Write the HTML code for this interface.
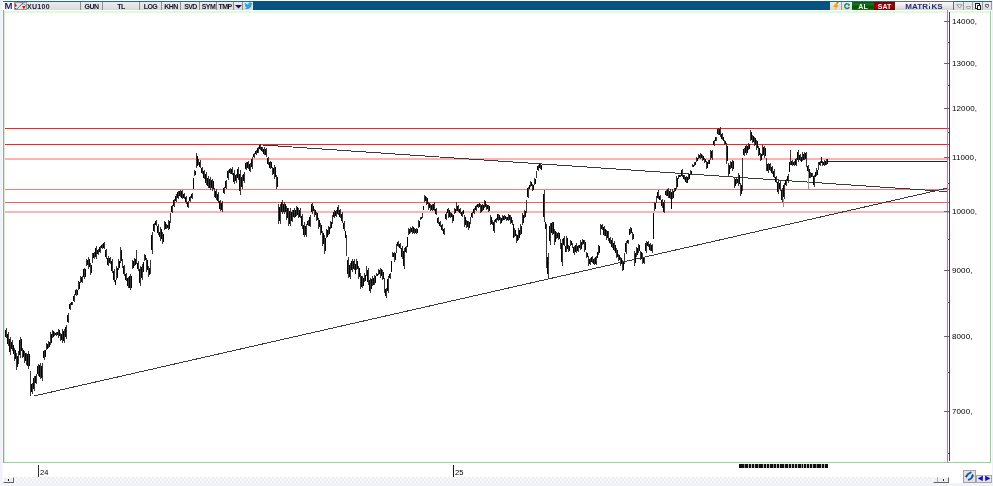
<!DOCTYPE html>
<html><head><meta charset="utf-8"><title>XU100</title>
<style>
*{margin:0;padding:0;box-sizing:border-box}
html,body{width:993px;height:486px;overflow:hidden;background:#eff3f9}
body{position:relative;font-family:"Liberation Sans",Arial,sans-serif}
.a{position:absolute}
.tb{position:absolute;top:2px;height:8px;background:linear-gradient(#ececec,#dadada)}
.sep{position:absolute;top:2px;width:1px;height:8px;background:#8e8e8e}
.tl{position:absolute;top:3px;height:7px;font:bold 7px/7px "Liberation Sans",Arial,sans-serif;color:#16162a;text-align:center;letter-spacing:-0.55px;white-space:nowrap}
.yl{position:absolute;left:952px;font:8px/8px "Liberation Sans",Arial,sans-serif;color:#000;letter-spacing:0.1px}
</style></head><body>
<!-- white panel -->
<div class="a" style="left:3px;top:0;width:989px;height:483px;background:#fff"></div>
<!-- top blue line -->
<div class="a" style="left:3px;top:1px;width:989px;height:1px;background:#1d6a94"></div>
<!-- toolbar left -->
<div class="a" style="left:4.6px;top:1.3px;width:9px;height:8px;font:bold 9.6px/9px 'Liberation Sans',Arial,sans-serif;color:#1e1e6e">M</div>
<div class="a" style="left:14px;top:2px;width:13px;height:8px;background:#e6e6e6;border:1px solid #9a9a9a"></div>
<svg class="a" style="left:14px;top:2px" width="13" height="8" viewBox="0 0 13 8">
<path d="M1 1L3 4L1 5Z" fill="#e00"/><path d="M1 6.5L3 7L5 5L7 3L8 1.5L10 2L12 4" fill="none" stroke="#2030a0" stroke-width="1" stroke-dasharray="1 0.6"/>
<path d="M8 4L10 7.5L11.5 4Z" fill="#f00"/></svg>
<div class="tb" style="left:27px;width:226px"></div>
<div class="tl" style="left:27px;width:30px;text-align:left;color:#202040;letter-spacing:0.3px">XU100</div>
<div class="sep" style="left:80px"></div>
<div class="tl" style="left:81px;width:21px">GUN</div>
<div class="sep" style="left:102px"></div>
<div class="tl" style="left:103px;width:36px">TL</div>
<div class="sep" style="left:139px"></div>
<div class="tl" style="left:140px;width:21px">LOG</div>
<div class="sep" style="left:161px"></div>
<div class="tl" style="left:162px;width:18px">KHN</div>
<div class="sep" style="left:180px"></div>
<div class="tl" style="left:181px;width:19px">SVD</div>
<div class="sep" style="left:199px"></div>
<div class="tl" style="left:200px;width:17px">SYM</div>
<div class="sep" style="left:216px"></div>
<div class="tl" style="left:217px;width:16px">TMP</div>
<div class="sep" style="left:233px"></div>
<svg class="a" style="left:235px;top:5px" width="7" height="4" viewBox="0 0 7 4"><path d="M0 0H7L3.5 3.5Z" fill="#14145a"/></svg>
<div class="sep" style="left:242px"></div>
<svg class="a" style="left:244px;top:2px" width="9" height="8" viewBox="0 0 24 20"><path d="M23 2.3c-.8.4-1.7.6-2.6.7.9-.6 1.6-1.4 2-2.5-.9.5-1.9.9-2.9 1.1A4.5 4.5 0 0 0 11.8 5.7 12.8 12.8 0 0 1 2.5 1a4.5 4.5 0 0 0 1.4 6c-.7 0-1.4-.2-2-.6 0 2.2 1.6 4 3.6 4.4-.7.2-1.4.2-2 .1.6 1.8 2.2 3.1 4.2 3.1A9 9 0 0 1 1 15.9 12.8 12.8 0 0 0 7.9 18c8.3 0 12.8-6.9 12.8-12.8v-.6c.9-.6 1.6-1.4 2.3-2.3z" fill="#2ea3e0"/></svg>
<!-- dark blue bar -->
<div class="a" style="left:253px;top:1px;width:577px;height:9px;background:#08527f"></div>
<!-- right toolbar -->
<div class="tb" style="left:830px;width:22px"></div>
<svg class="a" style="left:833px;top:2px" width="7" height="9" viewBox="0 0 7 9"><path d="M3.6 0.3L5.6 0.3L3.9 3.1L5.9 3.1L1.5 8.2L2.6 4.9L0 4.9Z" fill="#f5a300"/><path d="M4.3 0.3L5.6 0.3L5 1.3L4.2 1.3Z" fill="#7a4a10"/></svg>
<div class="sep" style="left:841px;background:#a0a0a0"></div>
<svg class="a" style="left:843px;top:2px" width="8" height="9" viewBox="0 0 8 9"><path d="M6.1 3.1A2.3 2.3 0 1 0 6.2 4.9" fill="none" stroke="#11886a" stroke-width="1.4"/><circle cx="5.9" cy="2.7" r="1" fill="#11886a"/></svg>
<div class="a" style="left:852px;top:2px;width:22px;height:8px;background:linear-gradient(#0a4f0a,#1c7a1c 25%,#0b5a0b 50%,#0a500a 75%,#197519);color:#f4f4ff;font:bold 7px/9px 'Liberation Sans',Arial,sans-serif;text-align:center;letter-spacing:0px">AL</div>
<div class="a" style="left:874px;top:2px;width:21px;height:8px;background:linear-gradient(#7a0000,#960808 50%,#7d0000);color:#f4f0ff;font:bold 7px/9px 'Liberation Sans',Arial,sans-serif;text-align:center;letter-spacing:0px">SAT</div>
<div class="a" style="left:895px;top:1px;width:59px;height:9px;background:linear-gradient(#fafafa,#e2e2e2 70%,#cfcfcf);border-top:1px solid #6a6a6a;border-right:1px solid #6a6a6a;color:#2b2b78;font:bold 8px/8px 'Liberation Sans',Arial,sans-serif;text-align:center;letter-spacing:0.1px;padding-top:1px">MATR<span style="display:inline-block;position:relative;width:2.4px;height:6px;margin:0 0.6px 0 0.2px"><span style="position:absolute;left:0.3px;top:0.4px;width:1.8px;height:1.6px;background:#6fb0e6"></span><span style="position:absolute;left:0.3px;top:2.8px;width:1.8px;height:3.2px;background:#2b2b78"></span></span>KS</div>
<div class="tb" style="left:954px;width:37px"></div>
<svg class="a" style="left:956px;top:4px" width="7" height="5" viewBox="0 0 7 5"><path d="M0.8 0.8H6.2L3.5 4Z" fill="#fff" stroke="#8a8a8a" stroke-width="0.9"/></svg>
<div class="sep" style="left:963px;background:#9a9a9a"></div>
<div class="a" style="left:966px;top:6px;width:5px;height:3px;border:1px solid #a4a4a4;border-radius:0 0 2px 2px;background:#f0f0f0"></div>
<div class="sep" style="left:972px;background:#9a9a9a"></div>
<div class="a" style="left:975px;top:3px;width:5px;height:6px;border:1.3px solid #1a1a1a;background:#fff"></div>
<div class="a" style="left:977px;top:5px;width:4px;height:5px;border:1.3px solid #1a1a1a;background:#fff"></div>
<div class="sep" style="left:982px;background:#9a9a9a"></div>
<svg class="a" style="left:985px;top:4px" width="4" height="4" viewBox="0 0 4 4"><path d="M0.5 0.5H3.5V2.5L2 3.8L1.5 2.5H0.5Z" fill="#e8e8f0" stroke="#4a4a78" stroke-width="0.9"/></svg>
<div class="sep" style="left:991px;background:#9a9a9a"></div>

<svg class="a" style="left:0;top:0" width="993" height="486" viewBox="0 0 993 486">
<!-- frame -->
<rect x="2" y="0" width="1" height="483" fill="#f6f8fc"/><rect x="3" y="10" width="1" height="453" fill="#a2a2a6"/>
<rect x="4" y="11" width="987" height="2" fill="#ddfbdd"/>
<rect x="4" y="11" width="1" height="452" fill="#c6f6c6"/>
<rect x="4" y="462" width="987" height="1" fill="#94d494"/>
<rect x="990" y="11" width="1" height="452" fill="#94d494"/>
<rect x="5" y="128" width="944" height="1.0" fill="#ff1f1f"/><rect x="5" y="144" width="944" height="1.0" fill="#ff1f1f"/><rect x="5" y="158" width="944" height="2.0" fill="#ffb2b2"/><rect x="5" y="189" width="944" height="1.0" fill="#ff7a7a"/><rect x="5" y="202" width="944" height="1.0" fill="#ff5a5a"/><rect x="5" y="211" width="944" height="2.0" fill="#ffb2b2"/>
<!-- horizontal last price line -->
<rect x="828" y="161" width="119" height="1" fill="#222"/>
<!-- trend lines -->
<path d="M34 396L948 188" stroke="#3a3a3a" stroke-width="1" fill="none" shape-rendering="crispEdges"/>
<path d="M263 145L948 191.6" stroke="#3a3a3a" stroke-width="1" fill="none" shape-rendering="crispEdges"/>
<!-- price bars -->
<rect x="808" y="172" width="1" height="18" fill="#999"/><rect x="783" y="199" width="1" height="8" fill="#999"/>
<path d="M6.5 328.0V338.0M8.5 331.5V346.0M10.5 336.5V354.6M12.5 340.0V351.0M14.5 348.0V361.0M16.5 353.0V370.0M18.5 351.0V364.0M20.5 336.5V358.0M22.5 348.0V358.0M24.5 351.0V363.0M26.5 353.0V364.5M28.5 351.0V368.5M30.5 371.0V395.7M32.5 382.5V394.0M34.5 376.0V391.0M36.5 374.0V384.0M38.5 364.0V376.0M40.5 363.0V379.0M42.5 363.0V381.0M44.5 349.6V359.5M46.5 343.0V350.0M48.5 340.5V347.7M50.5 332.0V345.0M52.5 330.0V337.6M54.5 332.0V336.0M56.5 332.0V336.0M58.5 329.0V337.6M60.5 333.0V341.0M62.5 329.0V342.7M64.5 329.0V342.7M66.5 324.7V339.0M68.5 313.0V323.0M70.5 303.0V310.0M72.5 301.6V305.0M74.5 294.4V301.6M76.5 288.6V296.0M78.5 281.0V290.0M80.5 276.0V283.0M82.5 276.0V283.0M84.5 267.5V279.0M86.5 258.8V266.0M88.5 257.0V269.0M90.5 263.0V274.7M92.5 253.0V263.0M94.5 251.6V258.8M96.5 245.8V258.8M98.5 248.7V254.5M100.5 245.8V253.0M102.5 244.4V248.7M104.5 242.0V248.7M106.5 248.7V258.8M108.5 256.0V266.0M110.5 256.6V264.0M112.5 258.8V273.0M114.5 269.0V282.0M116.5 266.0V280.4M118.5 258.8V270.0M120.5 247.3V263.0M122.5 258.8V267.5M124.5 264.6V276.0M126.5 273.0V281.0M128.5 276.7V287.5M130.5 273.6V290.0M132.5 259.8V269.0M134.5 258.0V266.0M136.5 249.7V264.0M138.5 261.3V270.6M140.5 266.0V286.0M142.5 264.4V279.8M144.5 254.4V261.3M146.5 258.0V272.0M148.5 266.0V276.7M150.5 259.8V273.6M152.5 232.0V253.6M154.5 222.7V232.0M156.5 220.4V225.8M158.5 224.0V235.0M160.5 227.3V240.5M162.5 232.0V243.5M164.5 221.0V230.4M166.5 224.0V229.0M168.5 219.6V230.4M170.5 213.0V223.0M172.5 205.0V213.0M174.5 199.0V206.6M176.5 194.3V202.0M178.5 191.2V199.0M180.5 189.7V197.4M182.5 189.7V199.0M184.5 192.8V199.0M186.5 195.8V203.5M188.5 200.5V208.2M190.5 195.8V202.0M192.5 192.8V199.0M194.5 169.6V175.8M196.5 153.4V168.0M198.5 158.8V165.0M200.5 160.3V168.0M202.5 166.5V174.2M204.5 169.6V178.9M206.5 172.0V185.0M208.5 175.8V188.0M210.5 177.3V189.7M212.5 178.9V191.2M214.5 188.0V197.4M216.5 189.0V199.7M218.5 192.0V202.8M220.5 199.7V210.5M222.5 201.0V212.0M224.5 187.4V193.6M226.5 179.7V189.0M228.5 169.6V179.7M230.5 168.0V173.5M232.5 167.3V175.0M234.5 170.4V184.3M236.5 173.5V182.8M238.5 167.3V179.7M240.5 170.4V195.0M242.5 175.0V189.0M244.5 172.0V182.8M246.5 162.0V170.4M248.5 161.0V168.9M250.5 162.7V172.0M252.5 157.3V168.9M254.5 152.7V158.0M256.5 150.3V155.0M258.5 147.3V153.4M260.5 144.2V150.3M262.5 146.5V151.9M264.5 147.3V155.0M266.5 148.0V156.5M268.5 156.5V164.7M270.5 160.6V168.8M272.5 166.7V175.0M274.5 164.7V179.0M276.5 175.0V189.4M278.5 203.8V224.4M280.5 203.8V224.4M282.5 199.7V214.0M284.5 201.7V214.0M286.5 205.8V220.0M288.5 208.0V226.4M290.5 208.0V226.4M292.5 210.0V222.3M294.5 208.0V218.0M296.5 205.8V216.0M298.5 208.0V218.0M300.5 208.0V218.0M302.5 214.0V228.5M304.5 222.3V236.7M306.5 224.3V236.7M308.5 219.7V225.9M310.5 215.0V227.4M312.5 202.7V213.5M314.5 208.9V216.6M316.5 212.0V221.2M318.5 218.0V229.0M320.5 222.8V235.1M322.5 230.5V246.0M324.5 235.0V253.6M326.5 229.0V238.2M328.5 225.9V235.0M330.5 221.2V229.0M332.5 215.0V224.0M334.5 210.4V218.0M336.5 210.4V216.6M338.5 205.0V215.0M340.5 208.9V218.0M342.5 212.0V222.8M344.5 221.2V230.5M346.5 235.0V256.0M348.5 257.0V277.5M350.5 263.0V279.0M352.5 258.8V271.8M354.5 258.8V270.3M356.5 258.8V270.3M358.5 266.0V279.0M360.5 273.2V289.0M362.5 276.0V287.6M364.5 273.2V281.9M366.5 266.0V276.0M368.5 267.5V284.8M370.5 277.5V293.4M372.5 276.0V286.2M374.5 274.7V284.8M376.5 273.2V276.0M378.5 268.9V274.7M380.5 267.5V277.5M382.5 270.3V280.4M384.5 277.5V293.4M386.5 287.6V297.7M388.5 276.0V293.4M390.5 273.2V279.0M392.5 251.6V257.4M394.5 251.6V261.7M396.5 244.4V253.0M398.5 240.8V247.3M400.5 243.0V248.7M402.5 245.8V258.8M404.5 248.0V268.9M406.5 245.5V252.7M408.5 228.2V235.4M410.5 226.8V232.5M412.5 226.0V234.0M414.5 228.2V234.0M416.5 228.2V234.0M418.5 219.6V228.2M420.5 216.7V219.6M422.5 213.0V218.0M424.5 195.0V202.3M426.5 196.5V205.2M428.5 202.3V209.5M430.5 203.7V211.0M432.5 203.7V211.0M434.5 202.3V211.0M436.5 208.0V215.3M438.5 216.7V223.9M440.5 221.0V226.8M442.5 223.9V231.1M444.5 228.2V235.4M446.5 212.4V219.6M448.5 208.0V218.1M450.5 212.4V218.1M452.5 213.8V222.5M454.5 208.0V213.8M456.5 202.3V211.0M458.5 205.2V212.4M460.5 208.0V213.8M462.5 211.0V216.7M464.5 215.3V226.8M466.5 219.6V228.2M468.5 221.0V229.7M470.5 216.7V223.9M472.5 212.4V218.1M474.5 208.0V213.8M476.5 205.2V211.0M478.5 203.7V208.0M480.5 203.7V213.1M482.5 203.7V211.0M484.5 200.1V208.0M486.5 203.7V209.5M488.5 205.2V211.7M490.5 215.3V225.3M492.5 219.6V225.3M494.5 219.6V232.5M496.5 218.1V222.5M498.5 213.8V221.0M500.5 216.7V223.9M502.5 215.3V221.0M504.5 215.3V219.6M506.5 216.7V221.0M508.5 213.8V221.0M510.5 215.3V223.9M512.5 219.6V225.3M514.5 228.2V236.9M516.5 234.0V242.6M518.5 228.2V239.8M520.5 223.9V235.4M522.5 212.6V225.0M524.5 209.8V218.4M526.5 199.7V212.6M528.5 186.7V198.2M530.5 181.0V186.7M532.5 183.8V191.0M534.5 178.0V185.3M536.5 170.9V178.0M538.5 165.0V170.9M540.5 163.0V169.4M544.5 189.6V221.5M546.5 224.4V267.6M548.5 253.2V277.7M550.5 223.0V244.6M552.5 221.5V234.5M554.5 228.7V244.6M556.5 231.6V238.8M558.5 231.6V240.3M560.5 238.8V248.9M562.5 238.8V266.2M564.5 236.0V246.0M566.5 236.0V251.8M568.5 244.6V251.8M570.5 240.3V246.0M572.5 243.1V247.5M574.5 246.0V254.7M576.5 243.1V253.2M578.5 244.6V251.8M580.5 240.3V250.3M582.5 238.8V244.6M584.5 240.3V251.8M586.5 251.8V257.6M588.5 256.0V266.2M590.5 257.6V264.8M592.5 256.0V263.3M594.5 257.6V264.8M596.5 256.0V264.8M598.5 244.6V254.7M600.5 224.4V234.5M602.5 224.4V230.2M604.5 225.9V236.0M606.5 229.5V239.6M608.5 231.0V241.0M610.5 236.7V243.9M612.5 238.1V248.2M614.5 241.0V251.1M616.5 248.2V258.3M618.5 254.0V261.2M620.5 256.9V265.5M622.5 259.8V271.3M624.5 252.5V264.0M626.5 241.0V254.0M628.5 239.6V243.9M630.5 226.6V233.8M632.5 232.4V239.6M634.5 251.1V265.5M636.5 246.8V256.9M638.5 243.9V252.5M640.5 251.1V259.8M642.5 252.5V264.0M644.5 256.9V264.0M646.5 241.0V252.5M648.5 241.0V246.8M650.5 242.5V251.1M652.5 243.9V252.5M654.5 201.9V210.5M656.5 196.0V203.3M658.5 190.3V199.0M660.5 194.7V200.4M662.5 199.0V207.6M664.5 200.4V213.4M666.5 190.3V196.0M668.5 187.5V197.6M670.5 189.0V199.0M672.5 189.0V199.0M674.5 187.5V191.8M676.5 176.0V188.9M678.5 174.5V178.8M680.5 174.5V177.4M682.5 168.7V177.4M684.5 174.5V180.3M686.5 176.0V183.1M688.5 173.0V180.3M690.5 170.2V174.5M692.5 164.4V167.3M694.5 161.5V165.9M696.5 157.2V161.5M698.5 154.3V158.6M700.5 152.9V158.6M702.5 154.6V161.2M704.5 157.9V162.8M706.5 161.2V168.6M708.5 159.5V164.4M710.5 149.6V159.5M712.5 149.6V159.5M714.5 139.8V146.3M716.5 136.5V141.4M718.5 128.2V134.8M720.5 127.4V136.5M722.5 133.2V139.8M724.5 139.8V144.7M726.5 143.0V164.4M728.5 162.8V176.0M730.5 161.2V169.4M732.5 159.5V171.0M734.5 177.6V187.5M736.5 177.6V184.2M738.5 172.7V185.8M740.5 182.5V195.7M742.5 157.9V190.8M744.5 148.0V156.2M746.5 144.7V154.6M748.5 143.0V149.6M750.5 129.9V141.4M752.5 134.8V143.0M754.5 136.5V146.3M756.5 139.8V149.7M758.5 146.4V156.3M760.5 153.0V161.2M762.5 144.8V156.3M764.5 146.4V157.9M766.5 157.9V171.1M768.5 162.9V172.7M770.5 162.9V171.1M772.5 166.2V174.4M774.5 169.4V177.7M776.5 176.0V182.6M778.5 179.3V194.1M780.5 181.0V190.8M782.5 187.6V202.4M784.5 182.6V199.1M786.5 179.3V185.9M788.5 174.4V182.6M790.5 149.7V164.5M792.5 159.6V166.2M794.5 161.2V166.2M796.5 157.9V166.0M798.5 149.9V162.2M800.5 153.6V161.0M802.5 152.3V161.0M804.5 151.7V159.8M806.5 152.3V167.2M808.5 164.7V172.1M810.5 172.1V178.3M812.5 173.3V177.0M814.5 174.6V186.9M816.5 168.4V175.8M818.5 162.2V169.6M820.5 161.0V166.0M822.5 161.0V166.0M824.5 159.8V166.0M826.5 158.5V164.7" stroke="#383838" stroke-width="1" fill="none" shape-rendering="crispEdges"/>
<path d="M5.5 329.5V336.5M7.5 333.7V343.8M9.5 339.2V351.9M11.5 341.6V349.4M13.5 344.9V354.1M15.5 349.9V359.1M17.5 355.6V367.4M19.5 339.7V354.8M21.5 339.0V350.5M23.5 349.5V356.5M25.5 352.8V361.2M27.5 353.6V365.9M29.5 353.6V365.9M31.5 384.2V392.3M33.5 378.2V388.8M35.5 375.5V382.5M37.5 365.8V374.2M39.5 365.4V376.6M41.5 365.7V378.3M43.5 351.1V358.0M45.5 349.5V356.5M47.5 344.1V348.9M49.5 341.6V346.6M51.5 333.9V343.1M53.5 331.1V336.5M55.5 332.6V335.4M57.5 331.8V335.2M59.5 330.3V336.3M61.5 334.2V339.8M63.5 331.1V340.6M65.5 326.8V336.9M67.5 314.5V321.5M69.5 304.1V308.9M71.5 302.1V304.5M73.5 295.5V300.5M75.5 289.7V294.9M77.5 289.7V294.9M79.5 282.4V288.6M81.5 277.1V281.9M83.5 269.2V277.3M85.5 269.2V277.3M87.5 259.9V264.9M89.5 258.8V267.2M91.5 264.8V272.9M93.5 252.7V257.7M95.5 247.8V256.9M97.5 249.6V253.6M99.5 246.9V251.9M101.5 245.0V248.1M103.5 243.0V247.7M105.5 250.2V257.3M107.5 257.5V264.5M109.5 257.7V262.9M111.5 260.9V270.9M113.5 270.9V280.1M115.5 280.1V285.1M117.5 268.2V278.2M119.5 260.5V268.3M121.5 249.7V260.6M123.5 266.3V274.3M125.5 274.2V279.8M127.5 278.3V285.9M129.5 276.1V287.5M131.5 276.1V287.5M133.5 261.2V267.6M135.5 259.2V264.8M137.5 262.7V269.2M139.5 269.0V283.0M141.5 266.7V277.5M143.5 261.9V271.5M145.5 255.4V260.3M147.5 260.1V269.9M149.5 267.6V275.1M151.5 235.2V250.4M153.5 224.1V230.6M155.5 221.2V225.0M157.5 225.7V233.3M159.5 231.5V236.9M161.5 229.3V238.5M163.5 233.7V241.8M165.5 222.4V229.0M167.5 224.8V228.2M169.5 221.2V228.8M171.5 206.2V211.8M173.5 200.1V205.5M175.5 195.5V200.8M177.5 192.4V197.8M179.5 190.9V196.2M181.5 191.1V197.6M183.5 193.7V198.1M185.5 197.0V202.3M187.5 201.7V207.0M189.5 196.7V201.1M191.5 193.7V198.1M193.5 178.1V188.9M195.5 170.5V174.9M197.5 155.6V165.8M199.5 161.5V166.8M201.5 167.7V173.0M203.5 171.0V177.5M205.5 173.9V183.1M207.5 177.6V186.2M209.5 179.2V187.8M211.5 179.8V188.2M213.5 180.7V189.4M215.5 190.6V198.1M217.5 193.6V201.2M219.5 201.3V208.9M221.5 202.7V210.3M223.5 188.3V192.7M225.5 181.1V187.6M227.5 171.1V178.2M229.5 168.8V172.7M231.5 168.5V173.8M233.5 172.5V182.2M235.5 174.9V181.4M237.5 169.2V177.8M239.5 174.1V191.3M241.5 177.1V186.9M243.5 173.6V181.2M245.5 163.3V169.1M247.5 162.2V167.7M249.5 164.1V170.6M251.5 159.0V167.2M253.5 153.5V157.2M255.5 151.0V154.3M257.5 148.2V152.5M259.5 145.1V149.4M261.5 147.3V151.1M263.5 148.5V153.8M265.5 149.3V155.2M267.5 157.7V163.5M269.5 161.8V167.6M271.5 161.8V167.6M273.5 167.9V173.8M275.5 166.8V176.9M277.5 177.2V187.2M279.5 206.9V221.3M281.5 201.8V211.9M283.5 203.5V212.2M285.5 203.5V212.2M287.5 207.9V217.9M289.5 210.8V223.6M291.5 211.8V220.5M293.5 209.5V216.5M295.5 209.5V216.5M297.5 207.3V214.5M299.5 209.5V216.5M301.5 216.2V226.3M303.5 224.5V234.5M305.5 226.2V234.8M307.5 220.6V225.0M309.5 216.9V225.5M311.5 204.3V211.9M313.5 205.5V210.8M315.5 210.1V215.4M317.5 213.4V219.8M319.5 219.7V227.3M321.5 224.6V233.3M323.5 232.8V243.7M325.5 237.8V250.8M327.5 230.4V236.8M329.5 227.3V233.6M331.5 222.4V227.8M333.5 211.5V216.9M335.5 211.3V215.7M337.5 206.5V213.5M339.5 210.3V216.6M341.5 213.6V221.2M343.5 222.6V229.1M345.5 230.7V238.3M347.5 260.1V274.4M349.5 265.4V276.6M351.5 260.8V269.9M353.5 260.5V268.6M355.5 263.8V273.9M357.5 260.5V268.6M359.5 267.9V277.1M361.5 275.6V286.6M363.5 277.7V285.9M365.5 274.5V280.6M367.5 270.1V282.2M369.5 279.9V291.0M371.5 279.4V288.6M373.5 277.5V284.7M375.5 276.2V283.3M377.5 273.6V275.6M379.5 269.8V273.8M381.5 269.0V276.0M383.5 271.8V278.9M385.5 289.1V296.2M387.5 278.6V290.8M389.5 274.1V278.1M391.5 261.2V272.3M393.5 252.5V256.5M395.5 253.1V260.2M397.5 241.8V246.3M399.5 243.9V247.8M401.5 247.8V256.9M403.5 251.1V265.8M405.5 246.6V251.6M407.5 237.3V246.5M409.5 229.3V234.3M411.5 227.7V231.6M413.5 227.2V232.8M415.5 229.1V233.1M417.5 229.1V233.1M419.5 220.9V226.9M421.5 217.1V219.2M423.5 206.1V210.1M425.5 196.1V201.2M427.5 197.8V203.9M429.5 203.4V208.4M431.5 204.8V209.9M433.5 203.6V209.7M435.5 209.1V214.2M437.5 217.8V222.8M439.5 221.9V225.9M441.5 225.0V230.0M443.5 229.3V234.3M445.5 213.5V218.5M447.5 208.9V212.9M449.5 209.5V216.6M451.5 213.3V217.2M453.5 215.1V221.2M455.5 208.9V212.9M457.5 206.3V211.3M459.5 208.9V212.9M461.5 211.9V215.8M463.5 210.4V214.4M465.5 217.0V225.1M467.5 220.9V226.9M469.5 222.3V228.4M471.5 213.3V217.2M473.5 208.9V212.9M475.5 206.1V210.1M477.5 204.3V207.4M479.5 203.2V207.1M481.5 205.1V211.7M483.5 204.8V209.9M485.5 201.3V206.8M487.5 204.6V208.6M489.5 206.2V210.7M491.5 216.8V223.8M493.5 221.5V230.6M495.5 218.8V221.8M497.5 213.7V219.7M499.5 214.9V219.9M501.5 217.8V222.8M503.5 216.2V220.1M505.5 215.9V219.0M507.5 217.3V220.4M509.5 214.9V219.9M511.5 216.6V222.6M513.5 224.0V238.2M515.5 229.5V235.6M517.5 235.3V241.3M519.5 229.9V238.1M521.5 225.6V233.7M523.5 214.5V223.1M525.5 211.1V217.1M527.5 188.4V196.5M529.5 184.7V188.7M531.5 181.9V185.8M533.5 184.9V189.9M535.5 179.1V184.2M537.5 165.9V170.0M539.5 164.0V168.4M541.5 164.7V169.8M543.5 194.4V216.7M545.5 222.3V228.7M547.5 256.9V274.0M549.5 226.2V241.4M551.5 223.4V232.6M553.5 222.4V233.6M555.5 231.1V242.2M557.5 232.7V237.7M559.5 232.9V239.0M561.5 242.9V262.1M563.5 237.5V244.5M565.5 245.9V251.9M567.5 238.4V249.4M569.5 245.7V250.7M571.5 241.2V245.1M573.5 247.3V253.4M575.5 244.6V251.7M577.5 245.7V250.7M579.5 245.3V248.3M581.5 241.8V248.8M583.5 239.7V243.7M585.5 242.0V250.1M587.5 252.7V256.7M589.5 258.7V263.7M591.5 257.1V262.2M593.5 258.7V263.7M595.5 257.3V263.5M597.5 251.6V257.7M599.5 246.1V253.2M601.5 225.3V229.3M603.5 227.4V234.5M605.5 228.8V235.9M607.5 231.0V238.1M609.5 237.8V242.8M611.5 239.6V246.7M613.5 242.5V249.6M615.5 245.4V252.5M617.5 249.7V256.8M619.5 255.1V260.1M621.5 258.2V264.2M623.5 261.5V269.6M625.5 242.9V252.1M627.5 240.2V243.3M629.5 229.3V235.4M631.5 227.7V232.7M633.5 233.5V238.5M635.5 253.3V263.3M637.5 248.3V255.4M639.5 245.2V251.2M641.5 252.4V258.5M643.5 258.0V262.9M645.5 242.7V250.8M647.5 241.9V245.9M649.5 243.8V249.8M651.5 245.2V251.2M653.5 213.0V238.5M655.5 203.2V209.2M657.5 191.6V197.7M659.5 195.6V199.5M661.5 200.3V206.3M663.5 202.3V211.5M665.5 191.2V195.1M667.5 189.0V196.1M669.5 190.5V197.5M671.5 192.4V208.6M673.5 190.5V197.5M675.5 188.1V191.2M677.5 177.9V187.0M679.5 174.9V177.0M681.5 170.0V176.1M683.5 175.4V179.4M685.5 177.1V182.0M687.5 177.3V183.3M689.5 174.1V179.2M691.5 170.8V173.9M693.5 164.8V166.9M695.5 162.2V165.2M697.5 157.8V160.9M699.5 154.9V158.0M701.5 153.8V157.7M703.5 155.6V160.2M705.5 158.6V162.1M707.5 162.3V167.5M709.5 160.2V163.7M711.5 151.1V158.0M713.5 140.8V145.3M715.5 137.2V140.7M717.5 129.2V133.8M719.5 128.8V135.1M721.5 134.2V138.8M723.5 137.2V140.7M725.5 140.5V144.0M727.5 146.2V161.2M729.5 164.8V174.0M731.5 162.4V168.2M733.5 161.2V169.3M735.5 179.1V186.0M737.5 178.6V183.2M739.5 174.7V183.8M741.5 184.5V193.7M743.5 149.2V155.0M745.5 146.2V153.1M747.5 146.2V153.1M749.5 144.0V148.6M751.5 131.6V139.7M753.5 136.0V141.8M755.5 138.0V144.8M757.5 141.3V148.2M759.5 147.9V154.8M761.5 154.2V160.0M763.5 146.5V154.6M765.5 148.1V156.2M767.5 164.4V171.2M769.5 164.1V169.9M771.5 167.4V173.2M773.5 170.6V176.5M775.5 177.0V181.6M777.5 181.5V191.9M779.5 182.5V189.3M781.5 189.8V200.2M783.5 185.1V196.6M785.5 180.3V184.9M787.5 175.6V181.4M789.5 161.8V172.2M791.5 160.6V165.2M793.5 161.9V165.4M795.5 159.1V164.8M797.5 151.7V160.4M799.5 154.7V159.9M801.5 157.1V162.4M803.5 153.6V159.7M805.5 152.9V158.6M807.5 165.8V171.0M809.5 169.0V177.7M811.5 173.0V177.4M813.5 176.4V185.1M815.5 172.0V177.2M817.5 169.5V174.7M819.5 161.8V165.2M821.5 157.3V163.4M823.5 161.8V165.2M825.5 160.7V165.1M827.5 159.4V163.8" stroke="#000" stroke-width="1" fill="none" shape-rendering="crispEdges"/>
<!-- axis -->
<rect x="947" y="10" width="1" height="453" fill="#c070c8"/>
<rect x="949" y="12" width="1" height="449" fill="#444"/>
<path d="M944 21.5H949M944 63.5H949M944 108.5H949M944 157.5H949M944 211.5H949M944 270.5H949M944 336.5H949M944 411.5H949" stroke="#666" stroke-width="1"/>
<rect x="947" y="42" width="1" height="1" fill="#d0d0d0"/><rect x="948" y="42" width="1" height="1" fill="#333"/><rect x="947" y="85" width="1" height="1" fill="#d0d0d0"/><rect x="948" y="85" width="1" height="1" fill="#333"/><rect x="947" y="132" width="1" height="1" fill="#d0d0d0"/><rect x="948" y="132" width="1" height="1" fill="#333"/><rect x="947" y="183" width="1" height="1" fill="#d0d0d0"/><rect x="948" y="183" width="1" height="1" fill="#333"/><rect x="947" y="239" width="1" height="1" fill="#d0d0d0"/><rect x="948" y="239" width="1" height="1" fill="#333"/><rect x="947" y="302" width="1" height="1" fill="#d0d0d0"/><rect x="948" y="302" width="1" height="1" fill="#333"/><rect x="947" y="372" width="1" height="1" fill="#d0d0d0"/><rect x="948" y="372" width="1" height="1" fill="#333"/><rect x="947" y="453" width="1" height="1" fill="#d0d0d0"/><rect x="948" y="453" width="1" height="1" fill="#333"/>
<!-- date ticks -->
<rect x="38" y="465" width="1" height="12" fill="#333"/>
<rect x="453" y="465" width="1" height="12" fill="#111"/>
<!-- dashed bar -->
<rect x="739" y="464" width="89" height="4" fill="#111"/><rect x="744" y="464" width="1" height="4" fill="#888"/><rect x="748" y="464" width="1" height="4" fill="#bbb"/><rect x="751" y="464" width="1" height="4" fill="#bbb"/><rect x="754" y="464" width="1" height="4" fill="#bbb"/><rect x="758" y="464" width="1" height="4" fill="#888"/><rect x="763" y="464" width="1" height="4" fill="#bbb"/><rect x="766" y="464" width="1" height="4" fill="#bbb"/><rect x="769" y="464" width="1" height="4" fill="#bbb"/><rect x="773" y="464" width="1" height="4" fill="#888"/><rect x="776" y="464" width="1" height="4" fill="#bbb"/><rect x="779" y="464" width="1" height="4" fill="#bbb"/><rect x="784" y="464" width="1" height="4" fill="#bbb"/><rect x="788" y="464" width="1" height="4" fill="#bbb"/><rect x="791" y="464" width="1" height="4" fill="#bbb"/><rect x="794" y="464" width="1" height="4" fill="#bbb"/><rect x="797" y="464" width="1" height="4" fill="#bbb"/><rect x="801" y="464" width="1" height="4" fill="#888"/><rect x="803" y="464" width="1" height="4" fill="#bbb"/><rect x="806" y="464" width="1" height="4" fill="#bbb"/><rect x="809" y="464" width="1" height="4" fill="#bbb"/><rect x="812" y="464" width="1" height="4" fill="#bbb"/><rect x="816" y="464" width="1" height="4" fill="#888"/><rect x="821" y="464" width="1" height="4" fill="#bbb"/><rect x="824" y="464" width="1" height="4" fill="#bbb"/>
</svg>
<div class="yl" style="top:18px">14000,</div><div class="yl" style="top:60px">13000,</div><div class="yl" style="top:105px">12000,</div><div class="yl" style="top:154px">11000,</div><div class="yl" style="top:208px">10000,</div><div class="yl" style="top:267px">9000,</div><div class="yl" style="top:333px">8000,</div><div class="yl" style="top:408px">7000,</div>
<div class="a" style="left:40px;top:469px;font:7.5px/7px 'Liberation Sans',Arial,sans-serif;color:#000">24</div>
<div class="a" style="left:455px;top:469px;font:7.5px/7px 'Liberation Sans',Arial,sans-serif;color:#000">25</div>
<!-- scrollbar -->
<div class="a" style="left:14px;top:477px;width:919px;height:6px;background-color:#f8f8f8;background-image:linear-gradient(45deg,#eeeeee 25%,transparent 25%,transparent 75%,#eeeeee 75%),linear-gradient(45deg,#eeeeee 25%,transparent 25%,transparent 75%,#eeeeee 75%);background-size:4px 4px;background-position:0 0,2px 2px"></div>
<div class="a" style="left:3px;top:477px;width:11px;height:6px;background:#efefef;border:1px solid #fafafa;border-right:1px solid #666;border-bottom:1px solid #666"></div>
<div class="a" style="left:8px;top:478.5px;width:1.2px;height:2px;background:#222"></div>
<div class="a" style="left:933px;top:477px;width:16px;height:6px;background:#efefef;border:1px solid #fafafa;border-right:1px solid #666;border-bottom:1px solid #666"></div><div class="a" style="left:937px;top:477px;width:1px;height:5px;background:#b0b0b0"></div>
<div class="a" style="left:943px;top:478.5px;width:1.2px;height:2px;background:#222"></div>
<!-- bottom right -->
<div class="a" style="left:963px;top:470px;width:13px;height:13px;background:#e2e2e2;border:1px solid #a0a0a0"></div>
<svg class="a" style="left:964px;top:471px" width="11" height="10" viewBox="0 0 11 10"><path d="M2.4 5.4Q3.4 2.6 6.6 1.6" fill="none" stroke="#1a55b0" stroke-width="2" stroke-linecap="round"/><path d="M0.6 5L3.8 4.6L2.4 6.6Z" fill="#1a55b0"/><path d="M4.8 8.6Q8 7.6 8.6 4.6" fill="none" stroke="#1a55b0" stroke-width="2" stroke-linecap="round"/><path d="M10 5.2L7.2 5.2L8.6 3Z" fill="#1a55b0"/></svg>
<div class="a" style="left:976px;top:475px;width:16px;height:8px;background:#e4e4e4;border:1px solid #a8a8a8"></div>
<svg class="a" style="left:977px;top:475px" width="14" height="7" viewBox="0 0 14 7"><rect x="6.3" y="0" width="1.2" height="7" fill="#f0f0f0"/><path d="M1.2 3.4L5.6 1V5.8Z" fill="#0a0af0" stroke="#101040" stroke-width="0.4"/><path d="M13 3.4L8.4 1V5.8Z" fill="#0a0af0" stroke="#101040" stroke-width="0.4"/></svg>
</body></html>
